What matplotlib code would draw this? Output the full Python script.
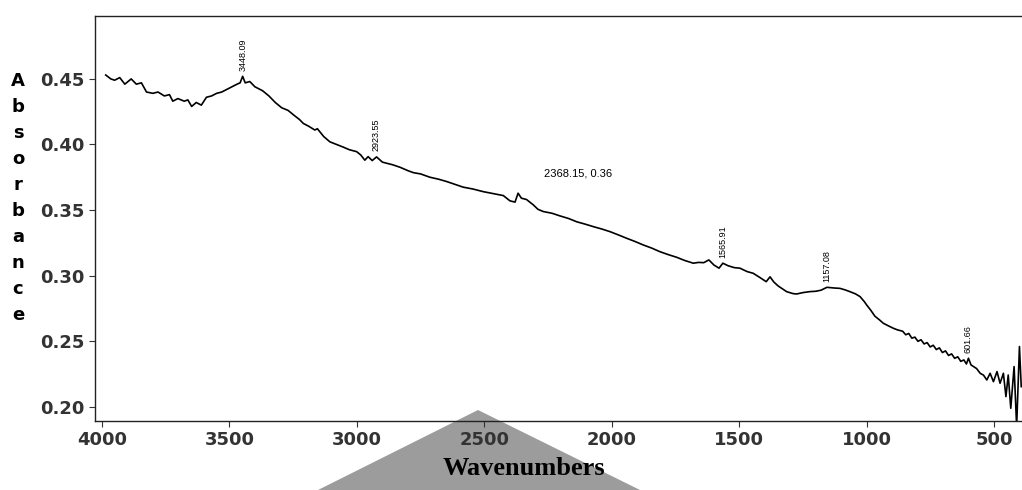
import matplotlib
matplotlib.use("Agg")
import matplotlib.pyplot as plt
from matplotlib.patches import Polygon

# FTIR spectrum (wavenumber cm-1, absorbance)
wavenumber = [3985, 3965, 3950, 3930, 3910, 3885, 3865, 3845, 3825, 3800,
              3780, 3755, 3735, 3722, 3702, 3677, 3663, 3648, 3630, 3610,
              3590, 3570, 3550, 3530, 3510, 3490, 3470, 3458, 3448, 3438,
              3420, 3400, 3370, 3345, 3320, 3295, 3270, 3245, 3225, 3210,
              3190, 3165, 3155, 3130, 3106, 3080, 3054, 3030, 3001, 2985,
              2969, 2956, 2940, 2923, 2900, 2884, 2860, 2831, 2800, 2779,
              2750, 2714, 2680, 2648, 2615, 2583, 2545, 2505, 2465, 2426,
              2400, 2380, 2368, 2355, 2335, 2309, 2290, 2269, 2235, 2204,
              2170, 2138, 2105, 2073, 2040, 2008, 1975, 1942, 1910, 1877,
              1845, 1812, 1780, 1746, 1715, 1681, 1660, 1640, 1620, 1600,
              1580, 1565, 1545, 1520, 1498, 1470, 1446, 1420, 1395, 1380,
              1365, 1348, 1315, 1290, 1276, 1250, 1224, 1200, 1180, 1157,
              1130, 1106, 1085, 1067, 1045, 1027, 1010, 1001, 985, 969,
              950, 936, 915, 897, 880, 860, 848, 836, 824, 812,
              800, 788, 776, 764, 752, 740, 728, 716, 704, 692,
              680, 668, 656, 644, 632, 620, 610, 602, 592, 582,
              570, 556, 543, 530, 517, 504, 490, 478, 465, 455,
              446, 436, 423, 413, 402, 395]
absorbance = [0.453, 0.450, 0.449, 0.451, 0.446, 0.450, 0.446, 0.447, 0.440, 0.439,
              0.440, 0.437, 0.438, 0.433, 0.435, 0.433, 0.434, 0.429, 0.432, 0.430,
              0.436, 0.437, 0.439, 0.440, 0.442, 0.444, 0.446, 0.447, 0.452, 0.447,
              0.448, 0.444, 0.441, 0.437, 0.432, 0.428, 0.426, 0.422, 0.419, 0.416,
              0.414, 0.411, 0.412, 0.406, 0.402, 0.400, 0.398, 0.396, 0.3945, 0.392,
              0.388, 0.3907, 0.3877, 0.3905, 0.3865, 0.3857, 0.3845, 0.3826, 0.380, 0.3785,
              0.3775, 0.375, 0.3735, 0.3717, 0.3695, 0.3674, 0.366, 0.364, 0.3625, 0.361,
              0.357, 0.356, 0.3628, 0.359, 0.358, 0.354, 0.3505, 0.3488, 0.3475, 0.3455,
              0.3435, 0.341, 0.3392, 0.3373, 0.3355, 0.3335, 0.331, 0.3284, 0.326, 0.3233,
              0.321, 0.3182, 0.316, 0.3139, 0.3115, 0.3094, 0.310, 0.3098, 0.3119, 0.308,
              0.3056, 0.3094, 0.3075, 0.306, 0.3056, 0.303, 0.3017, 0.2985, 0.2953, 0.299,
              0.295, 0.292, 0.2877, 0.2862, 0.2859, 0.287, 0.2877, 0.288, 0.2888, 0.291,
              0.2905, 0.2902, 0.289, 0.2877, 0.286, 0.2839, 0.280, 0.2775, 0.2735, 0.269,
              0.266, 0.2636, 0.2615, 0.2598, 0.2585, 0.2575, 0.2548, 0.2558, 0.2522, 0.2530,
              0.2498, 0.2510, 0.2478, 0.2488, 0.2455, 0.2468, 0.2435, 0.2448, 0.2412, 0.2425,
              0.2390, 0.2402, 0.2368, 0.2380, 0.2345, 0.2356, 0.2325, 0.2369, 0.2318, 0.2305,
              0.229, 0.2254, 0.224, 0.2203, 0.2254, 0.219, 0.2267, 0.2178, 0.2254, 0.2076,
              0.2241, 0.1987, 0.2305, 0.1847, 0.2458, 0.2152]

# labelled peaks
peak_wn = [3448, 2923, 1565, 1157, 602]
peak_abs = [0.452, 0.3905, 0.3094, 0.291, 0.2369]
peak_text = ["3448.09", "2923.55", "1565.91", "1157.08", "601.66"]
cursor_wn, cursor_abs, cursor_text = 2368, 0.3628, "2368.15, 0.36"

xticks = [4000, 3500, 3000, 2500, 2000, 1500, 1000, 500]
yticks = [0.20, 0.25, 0.30, 0.35, 0.40, 0.45]

fig = plt.figure(figsize=(10.22, 4.9), dpi=100)

# grey scan smudge behind the x axis label
fig.patches.append(Polygon([(318/1022, 0), (478/1022, 1-410/490), (640/1022, 0)],
                           closed=True, transform=fig.transFigure,
                           facecolor="#9c9c9c", edgecolor="none", zorder=-5))

ax = fig.add_axes([95/1022, 1-421/490, 927/1022, 405/490])
ax.patch.set_alpha(0)

ax.plot(wavenumber, absorbance, color="black", lw=1.2)

for w, a, t in zip(peak_wn, peak_abs, peak_text):
    ax.annotate(t, xy=(w, a), xytext=(0, 4), textcoords="offset points",
                rotation=90, ha="center", va="bottom", fontsize=6.5,
                family="Liberation Sans")
ax.annotate(cursor_text, xy=(cursor_wn, cursor_abs), xytext=(19, 14),
            textcoords="offset points", ha="left", va="center", fontsize=8,
            family="Liberation Sans")

ax.set_xlim(4027, 392)
ax.set_ylim(0.189, 0.498)
ax.set_xticks(xticks)
ax.set_yticks(yticks)
ax.set_yticklabels([f"{v:.2f}" for v in yticks])
ax.tick_params(direction="out", length=4, width=0.8, colors="#333333",
               labelsize=13)
for lab in ax.get_xticklabels() + ax.get_yticklabels():
    lab.set_fontweight("bold")

ax.spines["right"].set_visible(False)
for s in ["left", "bottom", "top"]:
    ax.spines[s].set_color("#222222")
    ax.spines[s].set_linewidth(1.0)

ax.set_ylabel("\n".join("Absorbance"), rotation=0, fontsize=13,
              fontweight="bold", linespacing=1.57, va="center", ha="center")
ax.yaxis.set_label_coords(-0.083, 0.55)

ax.set_xlabel("Wavenumbers", fontsize=19, fontweight="bold",
              family="Liberation Serif", va="top")
ax.xaxis.set_label_coords(0.463, -0.088)

fig.savefig("out.png", dpi=100)
